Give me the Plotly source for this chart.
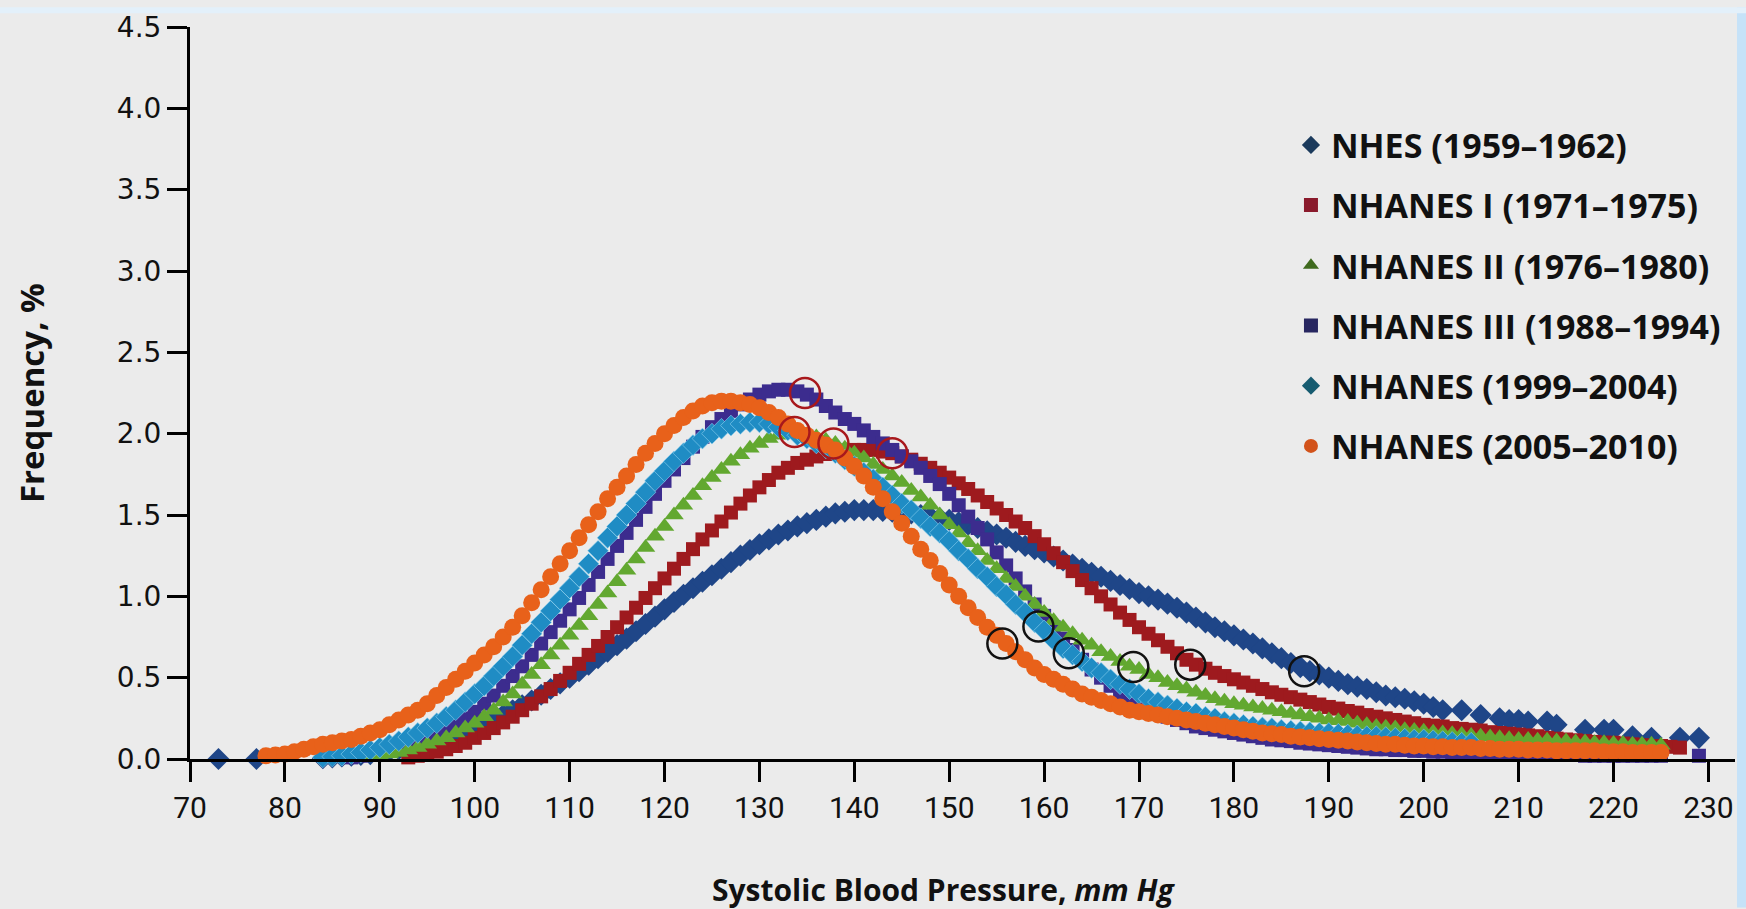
import plotly.graph_objects as go

# ---------------- data ----------------
nhes_x = [73, 77] + list(range(84, 203)) + [204, 206, 208, 209, 210, 211, 213, 214, 217, 219, 220, 222, 224, 227, 229]
nhes_y = [0.0, 0.0,
          0.005, 0.01, 0.015, 0.02, 0.025, 0.03, 0.04, 0.05, 0.06, 0.07,
          0.08, 0.095, 0.11, 0.13, 0.15, 0.17, 0.19, 0.215, 0.24, 0.27,
          0.30, 0.33, 0.36, 0.395, 0.43, 0.465, 0.50, 0.54, 0.58, 0.62,
          0.66, 0.70, 0.74, 0.785, 0.83, 0.875, 0.92, 0.965, 1.01, 1.05,
          1.09, 1.13, 1.17, 1.21, 1.25, 1.285, 1.32, 1.35, 1.38, 1.405,
          1.43, 1.45, 1.47, 1.49, 1.51, 1.52, 1.53, 1.53, 1.53, 1.525,
          1.52, 1.515, 1.51, 1.50, 1.49, 1.48, 1.47, 1.455, 1.44, 1.42,
          1.40, 1.38, 1.36, 1.335, 1.31, 1.29, 1.27, 1.245, 1.22, 1.195,
          1.17, 1.145, 1.12, 1.095, 1.07, 1.045, 1.02, 1.00, 0.98, 0.955,
          0.93, 0.90, 0.87, 0.84, 0.81, 0.785, 0.76, 0.735, 0.71, 0.68,
          0.65, 0.62, 0.59, 0.565, 0.54, 0.52, 0.50, 0.48, 0.46, 0.445,
          0.43, 0.41, 0.39, 0.38, 0.37, 0.355, 0.34, 0.32, 0.30,
          0.30, 0.27, 0.25, 0.24, 0.24, 0.23, 0.23, 0.21, 0.18, 0.18, 0.18, 0.14, 0.13, 0.13, 0.13]

n1_x = list(range(93, 228))
n1_y = [0.01, 0.02, 0.03, 0.045, 0.06, 0.08, 0.10, 0.13, 0.16, 0.19,
        0.225, 0.26, 0.30, 0.34, 0.385, 0.43, 0.48, 0.53, 0.585, 0.64,
        0.695, 0.75, 0.81, 0.87, 0.93, 0.99, 1.05, 1.11, 1.17, 1.23,
        1.29, 1.35, 1.405, 1.46, 1.515, 1.57, 1.62, 1.67, 1.715, 1.76,
        1.79, 1.82, 1.84, 1.86, 1.875, 1.89, 1.895, 1.90, 1.90, 1.90,
        1.89, 1.88, 1.86, 1.84, 1.815, 1.79, 1.76, 1.73, 1.695, 1.66,
        1.62, 1.58, 1.54, 1.50, 1.46, 1.42, 1.37, 1.32, 1.265, 1.21,
        1.155, 1.10, 1.05, 1.00, 0.95, 0.90, 0.855, 0.81, 0.77, 0.73,
        0.69, 0.65, 0.61, 0.58, 0.555, 0.53, 0.51, 0.49, 0.47, 0.45,
        0.43, 0.41, 0.395, 0.38, 0.365, 0.35, 0.335, 0.32, 0.31, 0.295,
        0.285, 0.27, 0.26, 0.25, 0.24, 0.23, 0.22, 0.21, 0.205, 0.20,
        0.19, 0.185, 0.18, 0.175, 0.165, 0.16, 0.155, 0.15, 0.145, 0.14,
        0.13, 0.125, 0.12, 0.115, 0.11, 0.105, 0.10, 0.10, 0.095, 0.09,
        0.085, 0.08, 0.08, 0.075, 0.07]

n2_x = list(range(88, 226))
n2_y = [0.01, 0.015, 0.02, 0.03, 0.04, 0.055, 0.07, 0.09, 0.11, 0.13,
        0.16, 0.19, 0.22, 0.26, 0.30, 0.35, 0.40, 0.46, 0.52, 0.58,
        0.64, 0.70, 0.76, 0.82, 0.88, 0.95, 1.02, 1.09, 1.16, 1.23,
        1.30, 1.37, 1.43, 1.50, 1.56, 1.62, 1.68, 1.73, 1.78, 1.83,
        1.87, 1.91, 1.94, 1.97, 1.99, 2.00, 2.00, 1.99, 1.98, 1.96,
        1.94, 1.91, 1.88, 1.85, 1.81, 1.78, 1.74, 1.70, 1.65, 1.61,
        1.56, 1.50, 1.44, 1.39, 1.33, 1.28, 1.22, 1.17, 1.11, 1.06,
        1.00, 0.95, 0.90, 0.85, 0.81, 0.77, 0.73, 0.70, 0.66, 0.63,
        0.60, 0.57, 0.55, 0.52, 0.50, 0.47, 0.45, 0.43, 0.41, 0.39,
        0.37, 0.355, 0.34, 0.33, 0.32, 0.31, 0.30, 0.29, 0.28, 0.27,
        0.26, 0.25, 0.24, 0.235, 0.23, 0.22, 0.21, 0.20, 0.195, 0.19,
        0.18, 0.175, 0.17, 0.165, 0.16, 0.155, 0.15, 0.145, 0.14, 0.135,
        0.13, 0.125, 0.12, 0.12, 0.115, 0.115, 0.11, 0.11, 0.105, 0.105,
        0.10, 0.10, 0.095, 0.095, 0.09, 0.09, 0.09, 0.085]

n3_x = list(range(87, 226)) + [229]
n3_y = [0.01, 0.02, 0.03, 0.04, 0.05, 0.065, 0.08, 0.10, 0.12, 0.15,
        0.18, 0.21, 0.25, 0.29, 0.34, 0.39, 0.45, 0.51, 0.57, 0.64,
        0.71, 0.78, 0.85, 0.92, 0.99, 1.07, 1.15, 1.23, 1.31, 1.39,
        1.47, 1.55, 1.63, 1.71, 1.78, 1.85, 1.92, 1.98, 2.04, 2.09,
        2.14, 2.18, 2.21, 2.24, 2.26, 2.27, 2.27, 2.26, 2.24, 2.21,
        2.17, 2.13, 2.09, 2.06, 2.02, 1.98, 1.94, 1.90, 1.86, 1.83,
        1.79, 1.74, 1.69, 1.63, 1.56, 1.49, 1.42, 1.35, 1.27, 1.19,
        1.11, 1.03, 0.95, 0.88, 0.81, 0.74, 0.67, 0.61, 0.55, 0.50,
        0.45, 0.41, 0.37, 0.34, 0.31, 0.28, 0.26, 0.24, 0.22, 0.20,
        0.19, 0.18, 0.17, 0.16, 0.15, 0.14, 0.13, 0.12, 0.115, 0.11,
        0.10, 0.095, 0.09, 0.085, 0.08, 0.075, 0.07, 0.065, 0.06, 0.06,
        0.055, 0.055, 0.05, 0.05, 0.045, 0.045, 0.04, 0.04, 0.04, 0.035,
        0.035, 0.035, 0.03, 0.03, 0.03, 0.03, 0.025, 0.025, 0.025, 0.025,
        0.02, 0.02, 0.02, 0.02, 0.02, 0.02, 0.02, 0.02, 0.02,
        0.02]

n99_x = list(range(84, 206))
n99_y = [0.01, 0.015, 0.02, 0.03, 0.04, 0.055, 0.07, 0.09, 0.11, 0.135,
         0.16, 0.19, 0.22, 0.26, 0.30, 0.35, 0.40, 0.45, 0.51, 0.57,
         0.63, 0.70, 0.77, 0.84, 0.91, 0.98, 1.05, 1.12, 1.20, 1.28,
         1.36, 1.43, 1.50, 1.57, 1.64, 1.71, 1.77, 1.83, 1.88, 1.93,
         1.97, 2.00, 2.03, 2.05, 2.06, 2.07, 2.07, 2.06, 2.04, 2.02,
         1.99, 1.97, 1.94, 1.91, 1.88, 1.84, 1.80, 1.76, 1.72, 1.67,
         1.62, 1.57, 1.53, 1.48, 1.43, 1.39, 1.34, 1.28, 1.23, 1.17,
         1.12, 1.06, 1.01, 0.95, 0.90, 0.84, 0.79, 0.73, 0.68, 0.64,
         0.60, 0.56, 0.53, 0.49, 0.46, 0.43, 0.40, 0.37, 0.35, 0.33,
         0.31, 0.29, 0.28, 0.26, 0.25, 0.23, 0.22, 0.21, 0.20, 0.195,
         0.19, 0.18, 0.175, 0.17, 0.165, 0.16, 0.16, 0.155, 0.15, 0.145,
         0.14, 0.14, 0.135, 0.13, 0.125, 0.12, 0.12, 0.115, 0.11, 0.105,
         0.10, 0.10]

n05_x = list(range(78, 226))
n05_y = [0.02, 0.025, 0.03, 0.045, 0.06, 0.075, 0.09, 0.10, 0.11, 0.12,
         0.14, 0.16, 0.18, 0.21, 0.24, 0.27, 0.30, 0.34, 0.39, 0.44,
         0.49, 0.54, 0.59, 0.64, 0.69, 0.75, 0.81, 0.88, 0.96, 1.04,
         1.12, 1.20, 1.28, 1.36, 1.44, 1.52, 1.60, 1.67, 1.74, 1.81,
         1.88, 1.94, 2.00, 2.05, 2.10, 2.14, 2.17, 2.19, 2.20, 2.20,
         2.19, 2.18, 2.16, 2.13, 2.10, 2.06, 2.02, 1.99, 1.96, 1.93,
         1.90, 1.85, 1.80, 1.74, 1.67, 1.60, 1.52, 1.45, 1.37, 1.29,
         1.22, 1.14, 1.07, 1.00, 0.93, 0.87, 0.81, 0.76, 0.71, 0.66,
         0.61, 0.56, 0.52, 0.49, 0.46, 0.43, 0.40, 0.38, 0.36, 0.34,
         0.32, 0.30, 0.29, 0.28, 0.27, 0.26, 0.25, 0.24, 0.23, 0.22,
         0.21, 0.20, 0.19, 0.18, 0.17, 0.16, 0.155, 0.15, 0.14, 0.135,
         0.13, 0.125, 0.12, 0.115, 0.11, 0.105, 0.10, 0.095, 0.09, 0.09,
         0.085, 0.08, 0.08, 0.075, 0.075, 0.07, 0.07, 0.07, 0.065, 0.065,
         0.06, 0.06, 0.06, 0.055, 0.055, 0.055, 0.05, 0.05, 0.05, 0.05,
         0.05, 0.045, 0.045, 0.045, 0.04, 0.04, 0.04, 0.04]

# highlighted points (open circles)
red_circle_x = [134.8, 133.7, 137.8, 144.0]
red_circle_y = [2.25, 2.01, 1.94, 1.88]
black_circle_x = [155.6, 159.4, 162.6, 169.4, 175.4, 187.4]
black_circle_y = [0.71, 0.815, 0.65, 0.566, 0.58, 0.54]

legend_names = ["NHES (1959\u20131962)", "NHANES I (1971\u20131975)", "NHANES II (1976\u20131980)",
                "NHANES III (1988\u20131994)", "NHANES (1999\u20132004)", "NHANES (2005\u20132010)"]

x_ticks = list(range(70, 231, 10))
y_ticks = [0.0, 0.5, 1.0, 1.5, 2.0, 2.5, 3.0, 3.5, 4.0, 4.5]

# ---------------- figure ----------------
fig = go.Figure()

def series(x, y, color, symbol, size, line=None):
    fig.add_trace(go.Scatter(
        x=x, y=y, mode="markers", showlegend=False, cliponaxis=False, hoverinfo="x+y",
        marker=dict(color=color, symbol=symbol, size=size,
                    line=line if line else dict(width=0))))

series(nhes_x, nhes_y, "#1f4688", "diamond", 17)
series(n1_x, n1_y, "#9e1a1e", "square", 14)
series(n3_x, n3_y, "#3c2c8e", "square", 14)
series(n2_x, n2_y, "#62a830", "triangle-up", 17)
series(n99_x, n99_y, "#1f8cc4", "diamond", 16, dict(width=0.6, color="#8fd2f0"))
series(n05_x, n05_y, "#e8611a", "circle", 17)

fig.add_trace(go.Scatter(x=red_circle_x, y=red_circle_y, mode="markers", showlegend=False,
                         cliponaxis=False, hoverinfo="skip",
                         marker=dict(symbol="circle-open", size=30, color="#a8181c",
                                     line=dict(width=2.5, color="#a8181c"))))
fig.add_trace(go.Scatter(x=black_circle_x, y=black_circle_y, mode="markers", showlegend=False,
                         cliponaxis=False, hoverinfo="skip",
                         marker=dict(symbol="circle-open", size=30, color="#111111",
                                     line=dict(width=2.5, color="#111111"))))

# legend entries
legend_colors = ["#1b3a5c", "#8a1a2c", "#3f6a1e", "#272660", "#165b70", "#d2521a"]
legend_symbols = ["diamond", "square", "triangle-up", "square", "diamond", "circle"]
for i, (nm, c, s) in enumerate(zip(legend_names, legend_colors, legend_symbols)):
    fig.add_trace(go.Scatter(x=[None], y=[None], mode="markers", name=nm, legendgroup=f"g{i}",
                             marker=dict(color=c, symbol=s, size=14)))

fig.update_layout(
    width=1746, height=909,
    margin=dict(l=190, r=11, t=20, b=150),
    paper_bgcolor="#ebebeb", plot_bgcolor="#ebebeb",
    font=dict(family="Open Sans", color="#111111"),
    showlegend=True,
    legend=dict(x=0.7126, y=0.878, xanchor="left", yanchor="top",
                bgcolor="rgba(0,0,0,0)", tracegroupgap=13,
                font=dict(family="Open Sans", size=34, weight=700, color="#111111")),
    xaxis=dict(range=[70, 232.8], tickmode="array", tickvals=x_ticks,
               ticktext=[str(v) for v in x_ticks],
               showgrid=False, zeroline=False, showline=True, linecolor="#000000", linewidth=3,
               ticks="outside", ticklen=20, tickwidth=2.5, tickcolor="#000000",
               tickfont=dict(family="Liberation Sans Narrow, Roboto", size=30, color="#111111")),
    yaxis=dict(range=[0, 4.5], tickmode="array", tickvals=y_ticks,
               ticktext=[f"{v:.1f}" for v in y_ticks],
               showgrid=False, zeroline=False, showline=True, linecolor="#000000", linewidth=3,
               ticks="outside", ticklen=20, tickwidth=2.5, tickcolor="#000000",
               tickfont=dict(family="DejaVu Sans", size=28, color="#111111")),
    annotations=[
        dict(text="Systolic Blood Pressure, <i>mm Hg</i>", xref="paper", yref="paper",
             x=0.488, y=-0.1785, xanchor="center", yanchor="middle", showarrow=False,
             font=dict(family="Open Sans", size=30, weight=700, color="#111111")),
        dict(text="Frequency, %", xref="paper", yref="paper", textangle=-90,
             x=-0.1029, y=0.50, xanchor="center", yanchor="middle", showarrow=False,
             font=dict(family="Open Sans", size=33, weight=700, color="#111111")),
    ],
    shapes=[
        dict(type="rect", xref="paper", yref="paper", x0=(1737 - 190) / 1545, x1=(1746 - 190) / 1545,
             y0=(759 - 909) / 739, y1=(759 - 0) / 739, fillcolor="#c6e2f8", line=dict(width=0), layer="below"),
        dict(type="rect", xref="paper", yref="paper", x0=-190 / 1545, x1=(1746 - 190) / 1545,
             y0=(759 - 6) / 739, y1=759 / 739, fillcolor="#e3f0fa", line=dict(width=0), layer="below"),
    ],
)

fig.write_html("out.html", config={"displayModeBar": False},
               post_script="document.body.style.margin='0';document.body.style.overflow='hidden';")
